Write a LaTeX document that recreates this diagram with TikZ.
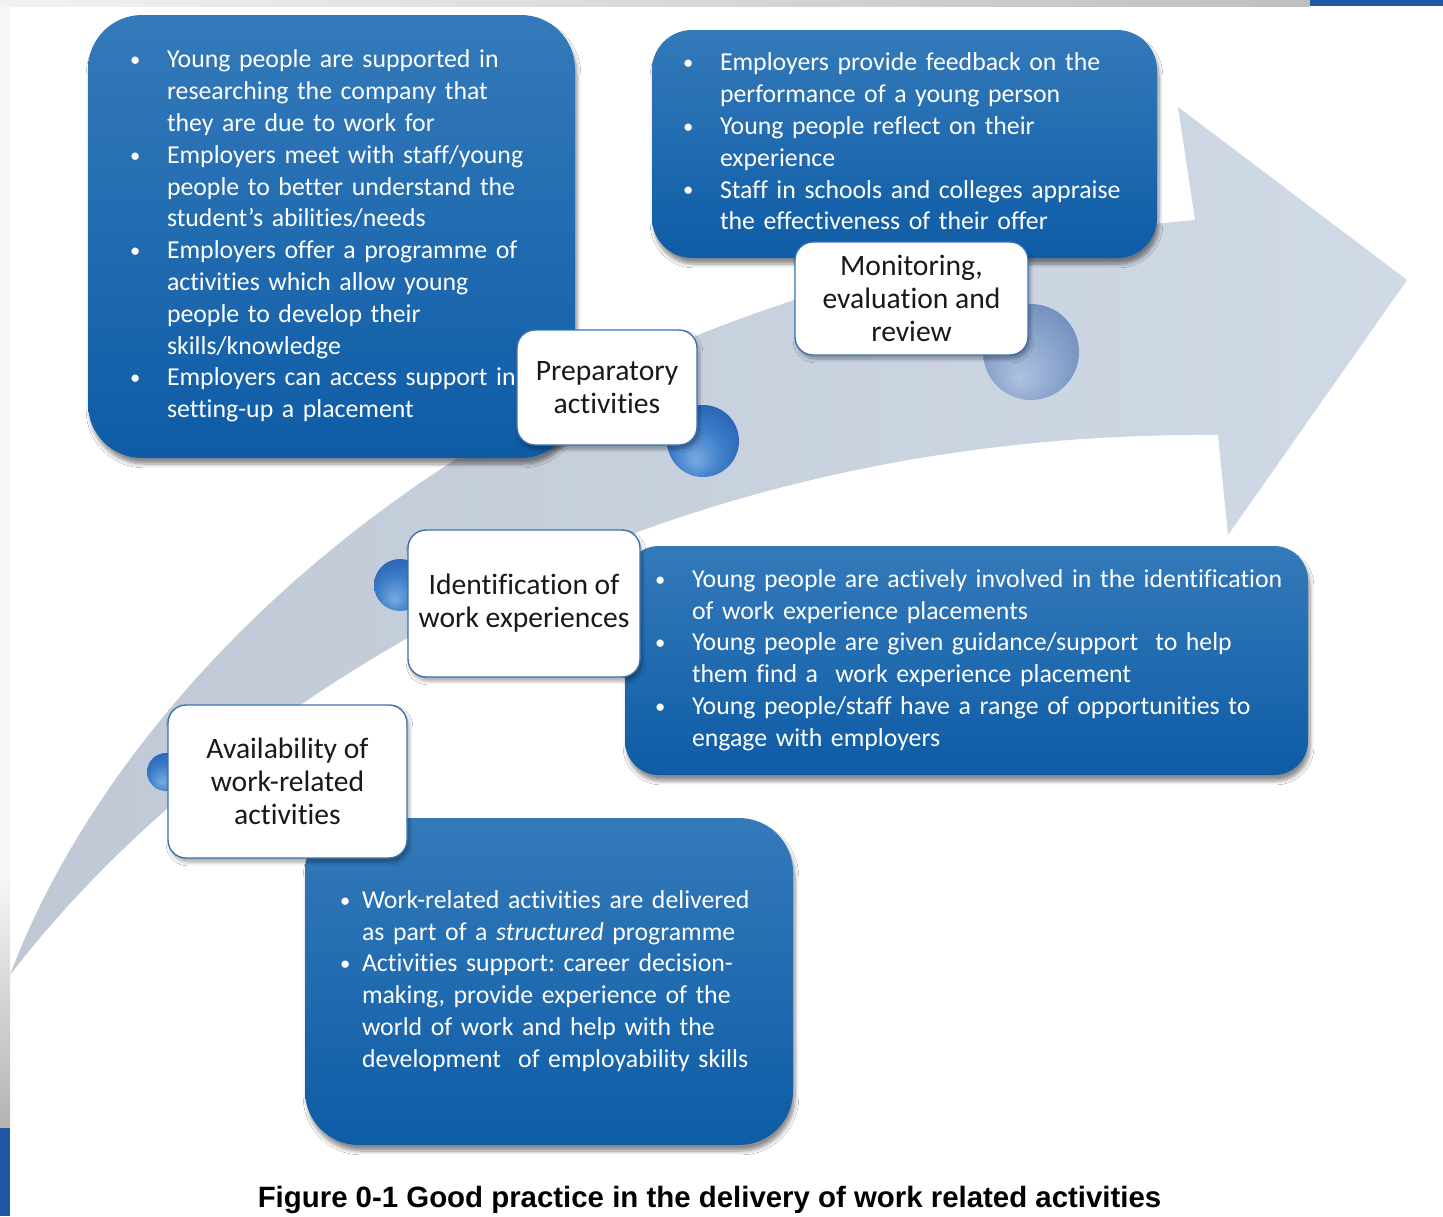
\documentclass[tikz,border=0pt]{standalone}
\usepackage{fontspec}
\setmainfont[Ligatures={NoCommon}]{Carlito}
\newfontfamily\capfont{Liberation Sans}
\usetikzlibrary{shadows.blur}
\frenchspacing

\definecolor{arrowA}{RGB}{192,200,214}
\definecolor{arrowB}{RGB}{208,217,230}
\definecolor{boxtop}{RGB}{52,122,186}
\definecolor{boxbot}{RGB}{14,92,166}
\definecolor{lblborder}{RGB}{61,114,176}
\definecolor{stripblue}{RGB}{31,86,165}

\pgfdeclareradialshading{orbblue}{\pgfpoint{-6bp}{-14bp}}{%
  color(0bp)=(rgb,255:red,120;green,170;blue,225);
  color(18bp)=(rgb,255:red,60;green,125;blue,200);
  color(40bp)=(rgb,255:red,30;green,85;blue,165);
  color(46bp)=(rgb,255:red,70;green,125;blue,195);
  color(50bp)=(rgb,255:red,175;green,205;blue,235)}
\pgfdeclareradialshading{orbpale}{\pgfpoint{-6bp}{-14bp}}{%
  color(0bp)=(rgb,255:red,175;green,195;blue,225);
  color(18bp)=(rgb,255:red,140;green,165;blue,205);
  color(40bp)=(rgb,255:red,100;green,130;blue,180);
  color(46bp)=(rgb,255:red,140;green,165;blue,205);
  color(50bp)=(rgb,255:red,210;green,222;blue,240)}

\newcommand{\bl}{\raisebox{0.1ex}{\scalebox{0.8}{\textbullet}}}

\tikzset{
  bluebox/.style={top color=boxtop, bottom color=boxbot, draw=none, text=white,
    align=left, inner ysep=0pt,
    blur shadow={shadow blur steps=6, shadow xshift=1pt, shadow yshift=-3pt, shadow opacity=45},
    font=\fontsize{12.9pt}{15.9pt}\selectfont},
  lbl/.style={draw=lblborder, line width=0.7pt, fill=white, rounded corners=9pt,
    align=center, inner sep=0pt, text=black!90,
    blur shadow={shadow blur steps=5, shadow xshift=1pt, shadow yshift=-2pt, shadow opacity=35},
    font=\fontsize{14.8pt}{16.5pt}\selectfont},
  orb/.style={circle, inner sep=0pt, shading=orbblue},
}

\begin{document}
\begin{tikzpicture}[x=0.5pt,y=-0.5pt]
\useasboundingbox (0,0) rectangle (1443,1216);
\fill[white] (0,0) rectangle (1443,1216);

% edge strips
\shade[left color=gray!10, right color=gray!50] (0,0) rectangle (1310,6);
\fill[stripblue] (1310,0) rectangle (1443,6);
\fill[gray!7] (0,6) rectangle (10,880);
\shade[top color=gray!8, bottom color=gray!60] (0,880) rectangle (10,1128);
\fill[stripblue] (0,1128) rectangle (10,1216);

% curved arrow
\shade[left color=arrowA, right color=arrowB]
  (10,975) .. controls (120,680) and (500,280) .. (1195,220)
  -- (1178,107) -- (1407,280) -- (1228,535) -- (1218,435)
  .. controls (600,430) and (190,740) .. (10,975) -- cycle;

% blue boxes
\node[bluebox, minimum width=243.5pt, minimum height=221.5pt, inner xsep=21pt,
      text width=201.5pt, rounded corners=27pt] (boxA) at (331.5,236.5) {%
\begin{tabular}{@{}p{18.5pt}@{}l@{}}
\bl & Young people are supported in\\
 & researching the company that\\
 & they are due to work for\\
\bl & Employers meet with staff/young\\
 & people to better understand the\\
 & student’s abilities/needs\\
\bl & Employers offer a programme of\\
 & activities which allow young\\
 & people to develop their\\
 & skills/knowledge\\
\bl & Employers can access support in\\
 & setting-up a placement
\end{tabular}};

\node[bluebox, minimum width=252.5pt, minimum height=114pt, inner xsep=15.5pt,
      text width=221.5pt, rounded corners=20pt] (boxB) at (904.5,144) {%
\begin{tabular}{@{}p{18.5pt}@{}l@{}}
\bl & Employers provide feedback on the\\
 & performance of a young person\\
\bl & Young people reflect on their\\
 & experience\\
\bl & Staff in schools and colleges appraise\\
 & the effectiveness of their offer
\end{tabular}};

\node[bluebox, minimum width=341.5pt, minimum height=114.5pt, inner xsep=15pt,
      text width=311.5pt, rounded corners=17pt] (boxC) at (966.5,660.5) {%
\begin{tabular}{@{}p{18.5pt}@{}l@{}}
\bl & Young people are actively involved in the identification\\
 & of work experience placements\\
\bl & Young people are given guidance/support\ \ to help\\
 & them find a\ \ work experience placement\\
\bl & Young people/staff have a range of opportunities to\\
 & engage with employers
\end{tabular}};

\node[bluebox, minimum width=244pt, minimum height=163.5pt, inner xsep=17.5pt,
      text width=209pt, rounded corners=27pt] (boxD) at (549,981.5) {%
\begin{tabular}{@{}p{11pt}@{}l@{}}
\bl & Work-related activities are delivered\\
 & as part of a \textit{structured} programme\\
\bl & Activities support: career decision-\\
 & making, provide experience of the\\
 & world of work and help with the\\
 & development\ \ of employability skills
\end{tabular}};

% spheres
\node[orb, minimum size=36pt] (orbP) at (703,441) {};
\node[orb, minimum size=48pt, shading=orbpale] (orbM) at (1031,352) {};
\node[orb, minimum size=26pt] (orbI) at (400,585) {};
\node[orb, minimum size=19pt] (orbA) at (166,772) {};

% labels
\node[lbl, minimum width=90pt, minimum height=57.5pt] (prep) at (607,387.5)
  {Preparatory\\activities};
\node[lbl, minimum width=116.5pt, minimum height=56.5pt] (mon) at (911.5,298.5)
  {Monitoring,\\evaluation and\\review};
\node[lbl, minimum width=116pt, minimum height=73.5pt] (ident) at (524,603.5)
  {Identification of\\work experiences};
\node[lbl, minimum width=119.5pt, minimum height=76.5pt] (avail) at (287.5,781.5)
  {Availability of\\work-related\\activities};

% caption
\node[anchor=base, inner sep=0pt, font=\capfont\bfseries\fontsize{14.7pt}{17pt}\selectfont] (cap) at (709.5,1207)
  {Figure 0-1 Good practice in the delivery of work related activities};
\end{tikzpicture}
\end{document}
